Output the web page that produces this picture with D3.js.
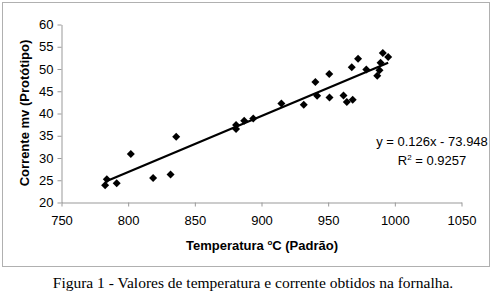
<!DOCTYPE html>
<html><head><meta charset="utf-8">
<script src="https://cdn.jsdelivr.net/npm/d3@7"></script>
<style>body{margin:0;background:#fff;} svg{display:block;}</style>
</head><body>
<script>
const temps = [782.7,784,791.4,802,818.7,831.8,836,880.9,880.9,887,893.8,914.9,931.7,940.4,941.7,950.8,951,961.5,964,968.4,967.7,972.4,978.6,986.8,988.5,989.3,991,995];
const currents = [23.9,25.2,24.3,30.9,25.5,26.3,34.8,36.5,37.4,38.35,38.9,42.25,41.95,47.1,44.0,48.85,43.6,44.05,42.6,43.1,50.4,52.3,49.9,48.5,49.7,51.4,53.6,52.7];
const xTicks = [750,800,850,900,950,1000,1050];
const yTicks = [20,25,30,35,40,45,50,55,60];
const slope = 0.126, intercept = -73.948, r2 = "0.9257";
const eqText = "y = 0.126x - 73.948";
const xTitle = "Temperatura ", yTitle = "Corrente mv (Protótipo)";
const caption = "Figura 1 - Valores de temperatura e corrente obtidos na fornalha.";

const W = 491, H = 291;
const svg = d3.select("body").append("svg").attr("width", W).attr("height", H);
svg.append("rect").attr("x",2.5).attr("y",2.5).attr("width",487).attr("height",264)
  .attr("fill","#fff").attr("stroke","#b0b0b0").attr("stroke-width",1);

const x = d3.scaleLinear().domain([750,1050]).range([61.5,461.5]);
const y = d3.scaleLinear().domain([20,60]).range([202.5,24.5]);

const font = "Liberation Sans, Arial, sans-serif";
const gx = svg.append("g").attr("transform",`translate(0,${y(20)})`)
  .call(d3.axisBottom(x).tickValues(xTicks).tickFormat(d3.format("d")).tickSize(4).tickSizeOuter(0).tickPadding(9));
const gy = svg.append("g").attr("transform",`translate(${x(750)},0)`)
  .call(d3.axisLeft(y).tickValues(yTicks).tickFormat(d3.format("d")).tickSize(4).tickSizeOuter(0).tickPadding(4));
[gx,gy].forEach(g=>{
  g.select(".domain").attr("stroke","#999");
  g.selectAll(".tick line").attr("stroke","#999");
  g.selectAll(".tick text").attr("font-family",font).attr("font-size",13).attr("fill","#000");
});

// trend line
const xmin = d3.min(temps), xmax = d3.max(temps);
svg.append("line")
  .attr("x1",x(xmin)).attr("y1",y(slope*xmin+intercept))
  .attr("x2",x(xmax)).attr("y2",y(slope*xmax+intercept))
  .attr("stroke","#000").attr("stroke-width",2.2);

// points
const sym = d3.symbol().type(d3.symbolSquare).size(32);
svg.append("g").selectAll("path").data(temps).join("path")
  .attr("d", sym)
  .attr("transform",(d,i)=>`translate(${x(d)},${y(currents[i])}) rotate(45)`)
  .attr("fill","#000");

// equation
svg.append("text").attr("x",432).attr("y",146).attr("text-anchor","middle")
  .attr("font-family",font).attr("font-size",13).text(eqText);
const rt = svg.append("text").attr("x",432).attr("y",165).attr("text-anchor","middle")
  .attr("font-family",font).attr("font-size",13);
rt.append("tspan").text("R");
rt.append("tspan").attr("dy",-5).attr("font-size",8).text("2");
rt.append("tspan").attr("dy",5).text(" = " + r2);

// axis titles
const xt = svg.append("text").attr("x",262).attr("y",250).attr("text-anchor","middle")
  .attr("font-family",font).attr("font-size",13).attr("font-weight","bold");
xt.append("tspan").text(xTitle);
xt.append("tspan").attr("dy",-5).attr("font-size",8).text("o");
xt.append("tspan").attr("dy",5).text("C (Padrão)");

svg.append("text").attr("transform","translate(29,113) rotate(-90)").attr("text-anchor","middle")
  .attr("font-family",font).attr("font-size",13).attr("font-weight","bold").text(yTitle);

svg.append("text").attr("x",253).attr("y",288).attr("text-anchor","middle")
  .attr("font-family","Liberation Serif, Times New Roman, serif").attr("font-size",15.5).text(caption);
</script>
</body></html>
